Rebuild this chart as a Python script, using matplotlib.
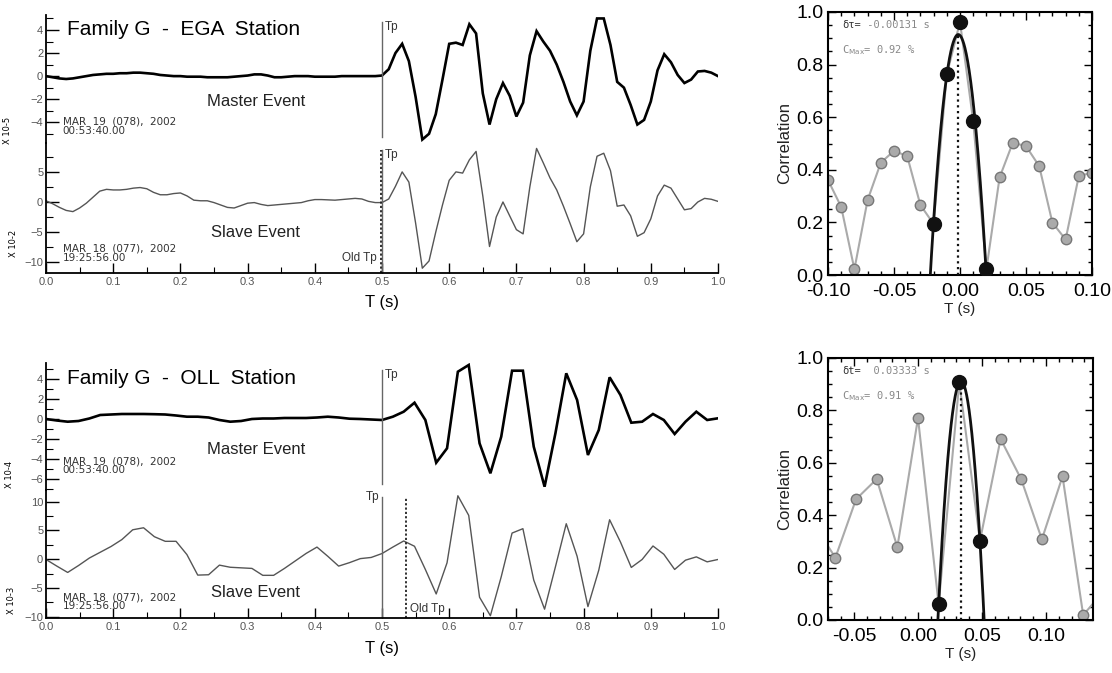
import matplotlib.pyplot as plt
import numpy as np
from matplotlib.ticker import MultipleLocator, FormatStrFormatter

plt.rcParams['font.family'] = ['Liberation Sans', 'DejaVu Sans']

# ---------------- waveforms ----------------
# EGA station, 100 Hz sampling
dt_ega = 0.01
ega_master = [0.0, -0.1, -0.2, -0.25, -0.2, -0.1, 0.0, 0.1, 0.15, 0.2,
              0.2, 0.25, 0.25, 0.3, 0.3, 0.25, 0.2, 0.1, 0.05, 0.0,
              0.0, -0.05, -0.05, -0.05, -0.1, -0.1, -0.1, -0.1, -0.05, 0.0,
              0.05, 0.15, 0.15, 0.05, -0.1, -0.1, -0.05, 0.0, 0.0, 0.0,
              -0.05, -0.05, -0.05, -0.05, 0.0, 0.0, 0.0, 0.0, 0.0, 0.0,
              0.05, 0.6, 2.0, 2.8, 1.3, -1.8, -5.5, -5.0, -3.3, -0.3,
              2.8, 2.9, 2.7, 4.5, 3.7, -1.5, -4.2, -2.0, -0.6, -1.7,
              -3.5, -2.3, 1.8, 3.9, 3.0, 2.2, 1.0, -0.5, -2.2, -3.4,
              -2.2, 2.2, 5.0, 5.0, 2.7, -0.5, -1.0, -2.5, -4.2, -3.8,
              -2.2, 0.5, 1.9, 1.2, 0.1, -0.6, -0.3, 0.4, 0.45, 0.3,
              0.0]
ega_slave = [0.2, -0.3, -0.9, -1.4, -1.6, -1.0, -0.2, 0.8, 1.8, 2.1,
             2.0, 2.0, 2.1, 2.3, 2.4, 2.2, 1.6, 1.2, 1.2, 1.4,
             1.5, 1.0, 0.3, 0.2, 0.2, -0.1, -0.5, -0.9, -1.0, -0.6,
             -0.2, -0.1, -0.4, -0.6, -0.5, -0.4, -0.3, -0.2, -0.1, 0.2,
             0.4, 0.4, 0.35, 0.3, 0.4, 0.5, 0.6, 0.5, 0.1, -0.1,
             -0.1, 0.5, 2.6, 5.0, 3.3, -3.5, -11.0, -9.8, -5.0, -0.5,
             3.6, 5.0, 4.8, 7.0, 8.4, 1.0, -7.4, -2.5, 0.0, -2.3,
             -4.6, -5.3, 2.5, 8.9, 6.5, 4.0, 2.0, -0.7, -3.6, -6.6,
             -5.3, 2.5, 7.6, 8.1, 5.2, -0.7, -0.5, -2.3, -5.7, -5.1,
             -2.8, 1.0, 2.8, 2.3, 0.5, -1.3, -1.1, 0.0, 0.6, 0.45,
             0.1]

# OLL station, ~62 Hz sampling
dt_oll = 1 / 62
oll_master = [0.0, -0.15, -0.27, -0.2, 0.05, 0.4, 0.45, 0.5, 0.5, 0.5,
              0.48, 0.45, 0.35, 0.23, 0.23, 0.15, -0.1, -0.27, -0.2, 0.0,
              0.05, 0.05, 0.1, 0.1, 0.1, 0.15, 0.23, 0.15, 0.03, 0.0,
              -0.05, -0.1, 0.23, 0.73, 1.63, -0.1, -4.37, -2.93, 4.73, 5.4,
              -2.43, -5.43, -1.77, 4.83, 4.83, -2.77, -6.77, -1.43, 4.57, 1.9,
              -3.6, -1.1, 4.17, 2.4, -0.37, -0.27, 0.5, -0.1, -1.5, -0.27,
              0.73, -0.1, 0.07]
oll_slave = [-0.05, -1.2, -2.3, -1.1, 0.2, 1.2, 2.2, 3.4, 5.1, 5.45,
             3.9, 3.1, 3.1, 0.8, -2.76, -2.7, -1.03, -1.4, -1.5, -1.6,
             -2.8, -2.8, -1.6, -0.3, 1.0, 2.1, 0.5, -1.2, -0.6, 0.1,
             0.3, 0.98, 2.1, 3.16, 2.24, -1.78, -6.03, -0.63, 11.0, 7.6,
             -6.6, -9.8, -3.05, 4.53, 5.29, -3.62, -8.67, -1.33, 6.15, 0.52,
             -8.22, -1.9, 6.84, 2.98, -1.43, -0.05, 2.29, 0.86, -1.78, -0.17,
             0.4, -0.46, -0.05]

# ---------------- cross-correlation ----------------
ega_lag_idx = list(range(-10, 11))
ega_corr = [0.361, 0.259, 0.022, 0.285, 0.427, 0.472, 0.452, 0.266, 0.194, 0.763,
            0.962, 0.585, 0.022, 0.371, 0.503, 0.490, 0.414, 0.199, 0.135, 0.376, 0.389]
ega_peak_idx = [-2, -1, 0, 1, 2]

oll_lag_idx = list(range(-5, 10))
oll_corr = [0.36, 0.238, 0.461, 0.538, 0.278, 0.771, 0.060, 0.907, 0.302, 0.691,
            0.537, 0.308, 0.548, 0.019, 0.11]
oll_peak_idx = [1, 2, 3]

W, H = 1112, 673
fig = plt.figure(figsize=(W / 100, H / 100), dpi=100)


def rect(x0, y0, x1, y1):
    # pixel box -> figure fraction
    return [x0 / W, 1 - y1 / H, (x1 - x0) / W, (y1 - y0) / H]


def master_axes(r, ylim, labels):
    ax = fig.add_axes(r)
    ax.set_xlim(0, 1)
    ax.set_ylim(*ylim)
    for s in ['top', 'right', 'bottom']:
        ax.spines[s].set_visible(False)
    ax.spines['left'].set_linewidth(1.3)
    ax.set_xticks([])
    ax.set_yticks(labels)
    ax.yaxis.set_minor_locator(MultipleLocator(1))
    ax.tick_params(axis='y', which='major', direction='in', length=9, width=1,
                   labelsize=8, labelcolor='#555555', pad=2)
    ax.tick_params(axis='y', which='minor', direction='in', length=5, width=0.8)
    ax.patch.set_alpha(0)
    return ax


def slave_axes(r, ylim, labels):
    ax = fig.add_axes(r)
    ax.set_xlim(0, 1)
    ax.set_ylim(*ylim)
    for s in ['top', 'right']:
        ax.spines[s].set_visible(False)
    ax.spines['left'].set_linewidth(1.3)
    ax.spines['bottom'].set_linewidth(1.3)
    ax.set_yticks(labels)
    ax.yaxis.set_minor_locator(MultipleLocator(2.5))
    ax.xaxis.set_major_locator(MultipleLocator(0.1))
    ax.xaxis.set_minor_locator(MultipleLocator(0.05))
    ax.xaxis.set_major_formatter(FormatStrFormatter('%.1f'))
    ax.tick_params(axis='y', which='major', direction='in', length=9, width=1,
                   labelsize=8, labelcolor='#555555', pad=2)
    ax.tick_params(axis='y', which='minor', direction='in', length=5, width=0.8)
    ax.tick_params(axis='x', which='major', direction='in', length=7, width=1,
                   labelsize=8, labelcolor='#555555', pad=3)
    ax.tick_params(axis='x', which='minor', direction='in', length=4, width=0.8)
    ax.set_xlabel('T (s)', fontsize=12, labelpad=6)
    ax.patch.set_alpha(0)
    return ax


def waveform_panel(top, split, bottom, m_lim, m_ticks, s_lim, s_ticks,
                   master, slave, dt, title, m_date, s_date, scale_m, scale_s,
                   old_tp, lay):
    axm = master_axes(rect(46, top, 718, split), m_lim, m_ticks)
    axs = slave_axes(rect(46, split, 718, bottom), s_lim, s_ticks)
    tm = np.arange(len(master)) * dt
    ts = np.arange(len(slave)) * dt
    axm.plot(tm, master, color='black', lw=1.9, solid_joinstyle='miter')
    axs.plot(ts, slave, color='#555555', lw=1.0)

    axm.axvline(0.5, ymin=0.045, ymax=0.945, color='#666666', lw=1.0)
    axs.axvline(0.5, ymin=0.0, ymax=0.945, color='#666666', lw=1.0)
    axs.axvline(old_tp, ymin=0.0, ymax=0.945, color='#222222', lw=1.3,
                linestyle=(0, (1.2, 1.2)))

    axm.text(0.031, lay['title'], title, fontsize=15, va='center', ha='left')
    axm.text(0.312, lay['mev'], 'Master Event', fontsize=12, ha='center', va='center',
             color='#222222')
    axm.text(0.025, lay['mdate'], m_date, fontsize=7.5, va='center', ha='left',
             family='DejaVu Sans', color='#333333', linespacing=0.85)
    axm.text(0.504, lay['mtp'], 'Tp', fontsize=8.5, va='center', ha='left',
             color='#333333')
    axs.text(0.312, lay['sev'], 'Slave Event', fontsize=12, ha='center', va='center',
             color='#222222')
    axs.text(0.025, lay['sdate'], s_date, fontsize=7.5, va='center', ha='left',
             family='DejaVu Sans', color='#333333', linespacing=0.85)
    axs.text(lay['stp_x'], lay['stp'], 'Tp', fontsize=8.5, va='center',
             ha=lay['stp_ha'], color='#333333')
    axs.text(lay['old_x'], lay['old'], 'Old Tp', fontsize=8.5, va='center',
             ha=lay['old_ha'], color='#333333')

    fig.text(lay['sx'][0] / W, 1 - lay['sy'][0] / H, scale_m, rotation=90,
             fontsize=6, ha='center', va='center', family='DejaVu Sans')
    fig.text(lay['sx'][1] / W, 1 - lay['sy'][1] / H, scale_s, rotation=90,
             fontsize=6, ha='center', va='center', family='DejaVu Sans')


# top: EGA
waveform_panel(15, 143, 273, (-5.8, 5.3), [-4, -2, 0, 2, 4],
               (-11.8, 9.8), [-10, -5, 0, 5],
               ega_master, ega_slave, dt_ega,
               'Family G  -  EGA  Station',
               'MAR  19  (078),  2002\n00:53:40.00',
               'MAR  18  (077),  2002\n19:25:56.00',
               'X 10-5', 'X 10-2', 0.4985,
               dict(title=4.0, mev=-2.2, mdate=-4.35, mtp=4.3, sev=-5.0, sdate=-8.5,
                    stp_x=0.504, stp=7.8, stp_ha='left',
                    old_x=0.492, old=-9.3, old_ha='right',
                    sx=(7, 13), sy=(130, 243)))

# bottom: OLL
waveform_panel(363, 490, 618, (-7.1, 5.6), [-6, -4, -2, 0, 2, 4],
               (-10.2, 12.0), [-10, -5, 0, 5, 10],
               oll_master, oll_slave, dt_oll,
               'Family G  -  OLL  Station',
               'MAR  19  (078),  2002\n00:53:40.00',
               'MAR  18  (077),  2002\n19:25:56.00',
               'X 10-4', 'X 10-3', 0.535,
               dict(title=4.1, mev=-3.1, mdate=-4.7, mtp=4.4, sev=-5.7, sdate=-7.4,
                    stp_x=0.496, stp=10.7, stp_ha='right',
                    old_x=0.541, old=-8.6, old_ha='left',
                    sx=(10, 12), sy=(474, 600)))


# ---------------- correlation panels ----------------
def corr_panel(r, lag_idx, corr, peak_idx, dt, xlim, dlabel, dval, cval):
    ax = fig.add_axes(r)
    lags = np.array(lag_idx) * dt
    corr = np.array(corr)
    ax.plot(lags, corr, '-o', color='#aaaaaa', lw=1.5, ms=7.5,
            mfc='#aaaaaa', mec='#777777', mew=1.0, zorder=2)
    sel = np.isin(lag_idx, peak_idx)
    coef = np.polyfit(lags[sel], corr[sel], 2)
    xs = np.linspace(lags[sel][0] - dt, lags[sel][-1] + dt, 300)
    ax.plot(xs, np.polyval(coef, xs), color='#111111', lw=2.0, zorder=3)
    xpk = -coef[1] / (2 * coef[0])
    ypk = np.polyval(coef, xpk)
    ax.plot([xpk, xpk], [0, ypk], color='#111111', lw=1.6,
            linestyle=(0, (1, 1.6)), zorder=3)
    ax.plot(lags[sel], corr[sel], 'o', color='#111111', ms=10, zorder=4)
    ax.set_xlim(*xlim)
    ax.set_ylim(0, 1)
    ax.xaxis.set_major_locator(MultipleLocator(0.05))
    ax.xaxis.set_minor_locator(MultipleLocator(0.01))
    ax.yaxis.set_major_locator(MultipleLocator(0.2))
    ax.yaxis.set_minor_locator(MultipleLocator(0.05))
    ax.xaxis.set_major_formatter(FormatStrFormatter('%.2f'))
    ax.yaxis.set_major_formatter(FormatStrFormatter('%.1f'))
    ax.tick_params(which='both', direction='in', top=True, right=True, width=1)
    ax.tick_params(which='major', length=6, labelsize=14)
    ax.tick_params(axis='x', which='major', pad=6)
    ax.tick_params(axis='y', which='major', pad=3)
    ax.tick_params(which='minor', length=3)
    for s in ax.spines.values():
        s.set_linewidth(1.5)
    ax.set_ylabel('Correlation', fontsize=12, labelpad=3, color='#222222')
    ax.set_xlabel('T (s)', fontsize=11, labelpad=1, color='#222222')
    ax.annotate(dlabel, xy=(0.053, 0.95), xycoords='axes fraction', va='center',
                fontsize=7.5, family='DejaVu Sans Mono', color='#333333')
    ax.annotate(dval, xy=(0.053, 0.95), xycoords='axes fraction', va='center',
                xytext=(3 * 0.6 * 7.5, 0), textcoords='offset points',
                fontsize=7.5, family='DejaVu Sans Mono', color='#888888')
    ax.annotate('C$_{\\rm Max}$= ' + cval, xy=(0.053, 0.855), xycoords='axes fraction',
                va='center', fontsize=7.5, family='DejaVu Sans Mono', color='#888888')
    return ax


corr_panel(rect(828, 12, 1092, 275), ega_lag_idx, ega_corr, ega_peak_idx, 0.01,
           (-0.10, 0.10), 'δτ=', ' -0.00131 s', '0.92 %')
corr_panel(rect(828, 358, 1093, 620), oll_lag_idx, oll_corr, oll_peak_idx, dt_oll,
           (-0.0703, 0.1367), 'δt=', '  0.03333 s', '0.91 %')

fig.savefig('out.png', dpi=100)
